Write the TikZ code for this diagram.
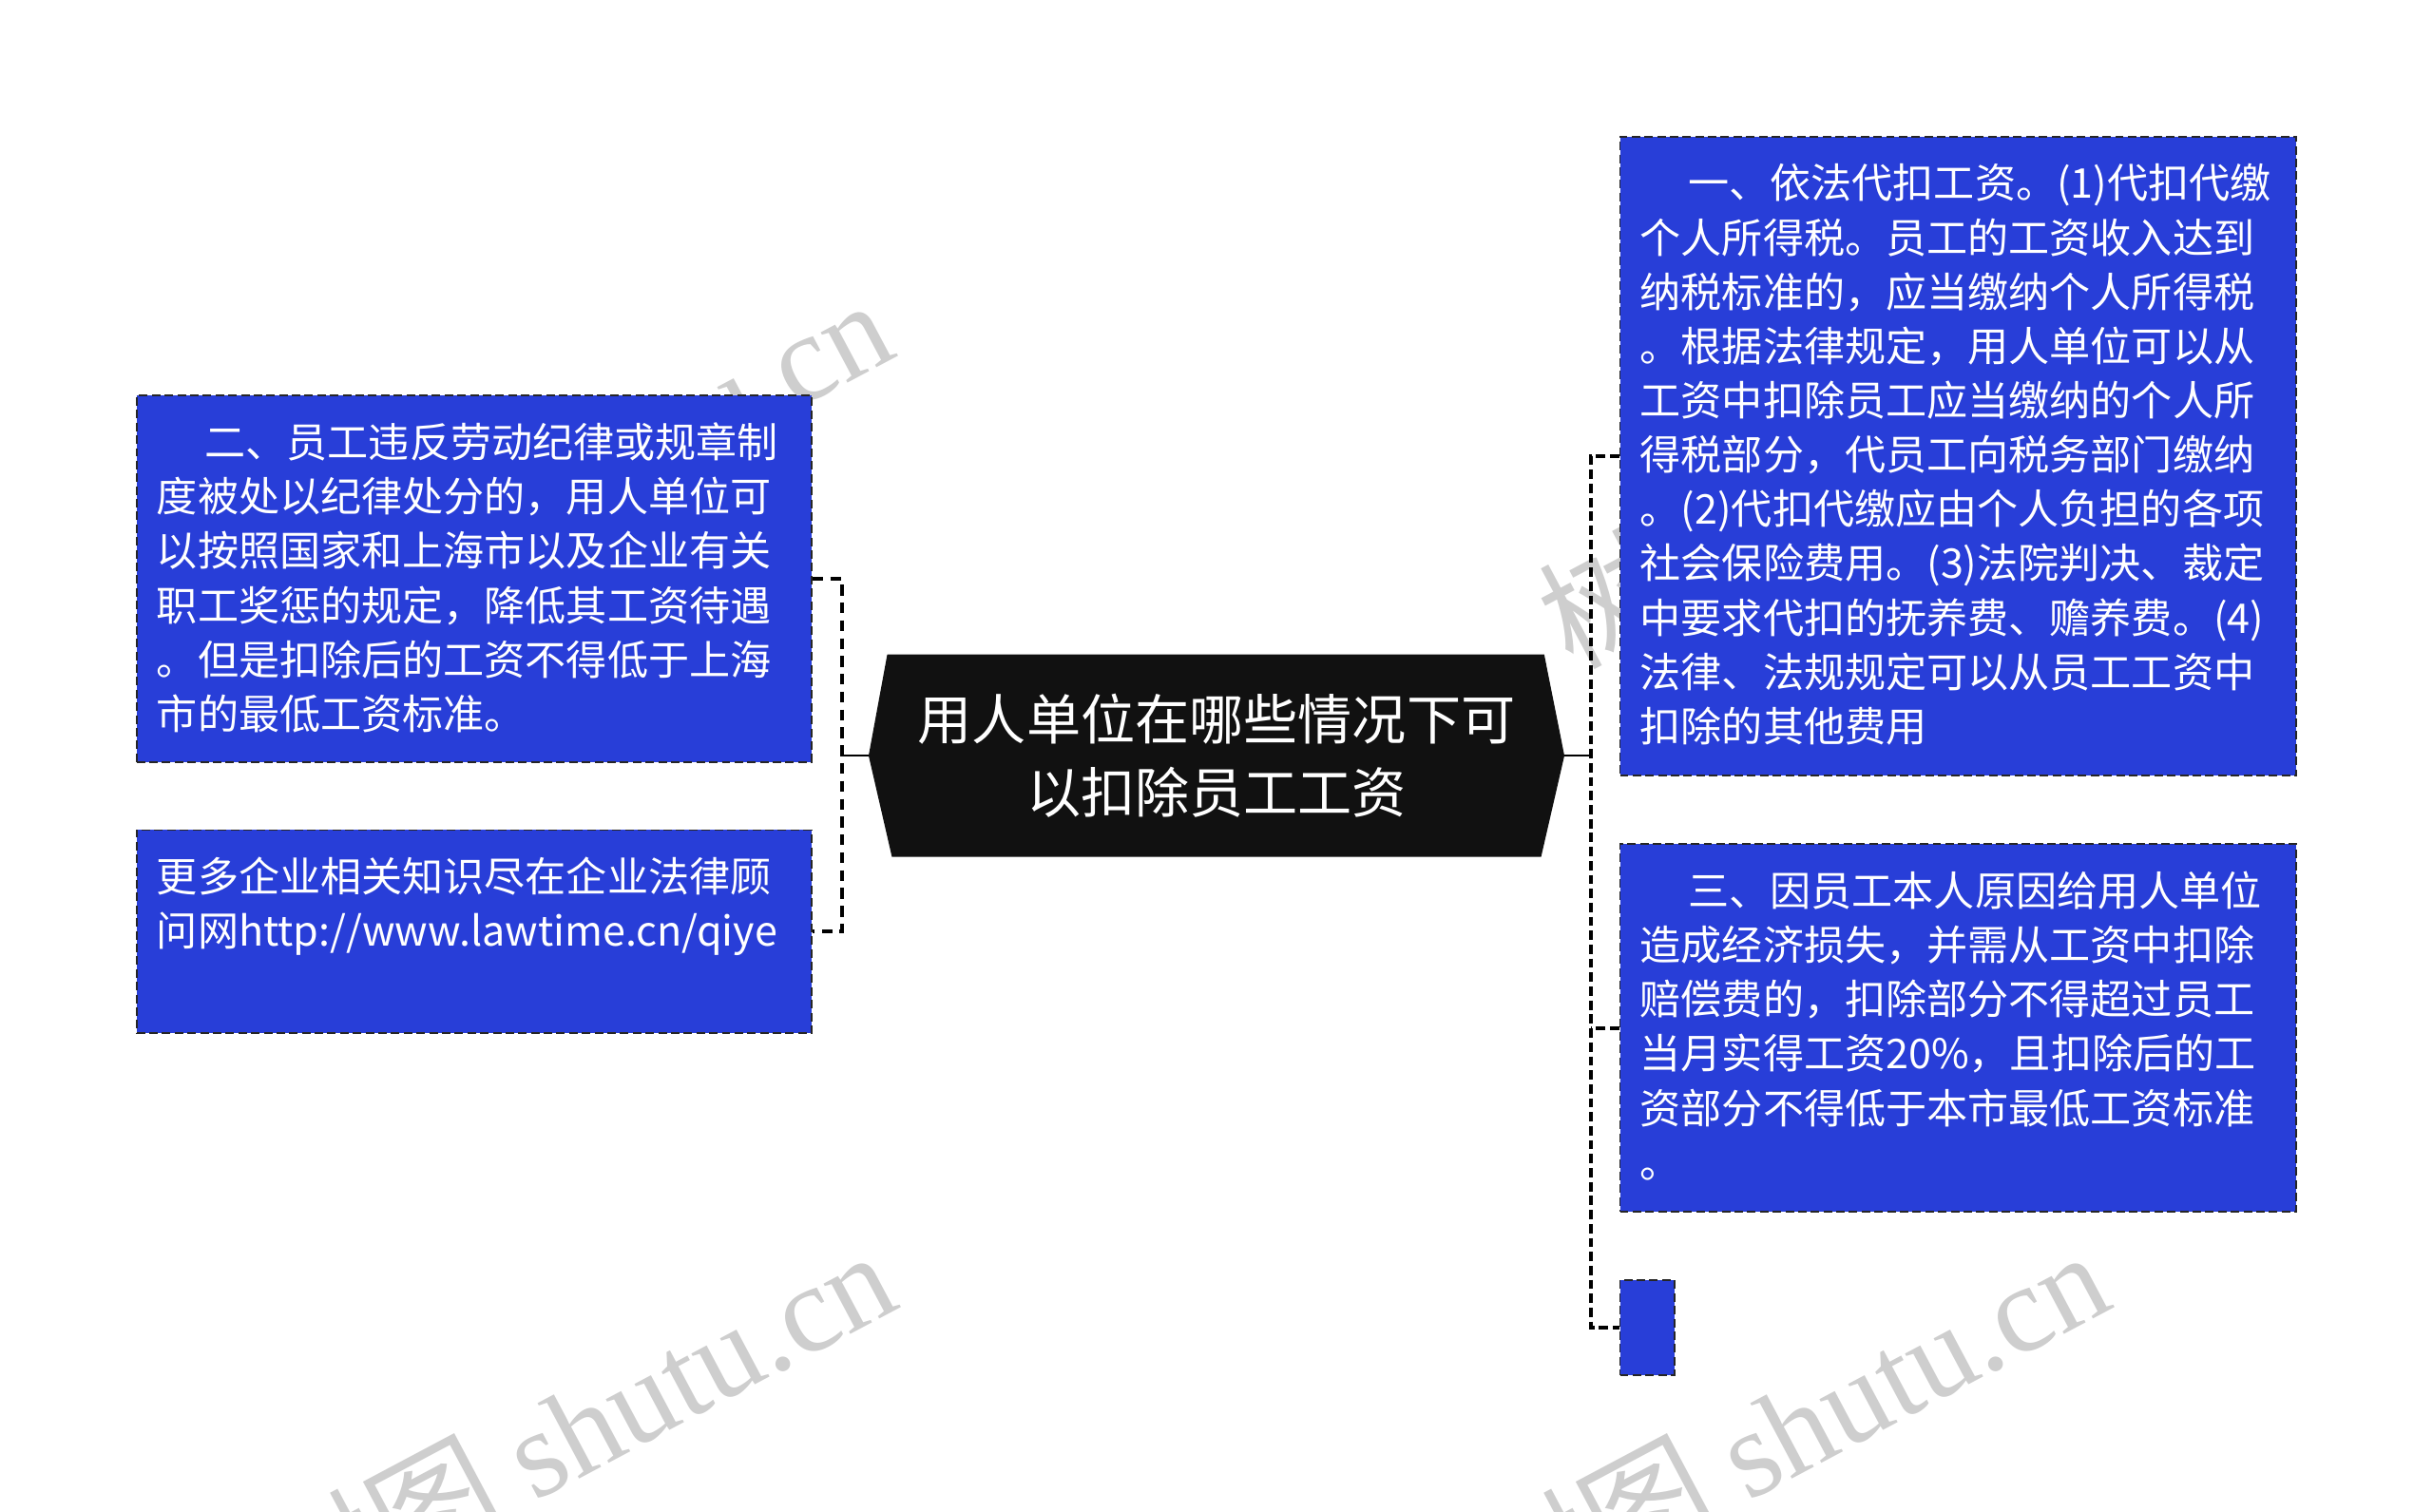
\documentclass[tikz,border=0pt]{standalone}
\usepackage{fontspec}
\setmainfont{Noto Sans CJK SC}
\newfontfamily\cjk{Noto Sans CJK SC}
\newfontfamily\wmserif{Liberation Serif}
\usetikzlibrary{calc,backgrounds}
\definecolor{boxblue}{RGB}{40,62,216}
\definecolor{hexfill}{RGB}{17,17,17}
\definecolor{wmgray}{RGB}{206,206,206}
\newcommand\boxtext[3]{\parbox[c][#1][t]{#2}{\fontsize{26.4}{35}\selectfont\raggedright\rule{0pt}{40pt}#3}}
\tikzset{
  infobox/.style={rectangle, fill=boxblue, draw=black!85, line width=1.2pt,
    dash pattern=on 5.5pt off 2.7pt, inner sep=0pt, text=white,
    font=\cjk\fontsize{26.4}{35}\selectfont},
  hexnode/.style={rectangle, minimum width=448pt, minimum height=130pt, inner sep=0pt,
    align=center, text=white, font=\cjk\fontsize{35}{47}\selectfont},
  stub/.style={line width=1.6pt, black},
  ldash/.style={line width=2.4pt, black, dash pattern=on 7pt off 4.5pt},
  rdash/.style={line width=2.4pt, black, dash pattern=on 6pt off 3pt},
  wmark/.style={anchor=base east, rotate=28, text=wmgray,
    inner sep=0pt, font=\fontsize{80}{80}\selectfont}
}
\begin{document}
\begin{tikzpicture}[x=1pt,y=-1pt]
\useasboundingbox (0,0) rectangle (1568,974);

% central topic
\node[hexnode] (c) at (784,487) {用人单位在哪些情况下可\\以扣除员工工资};

\begin{scope}[on background layer]
\fill[white] (0,0) rectangle (1568,974);
% watermarks
\node[wmark] (wm1) at (580,229) {{\cjk 树图} {\wmserif shutu.cn}};
\node[wmark] (wm2) at (1408,222) {{\cjk 树图} {\wmserif shutu.cn}};
\node[wmark] (wm3) at (582,842) {{\cjk 树图} {\wmserif shutu.cn}};
\node[wmark] (wm4) at (1364,842) {{\cjk 树图} {\wmserif shutu.cn}};
\fill[hexfill] (c.west) -- ($(c.north west)+(12,0)$) -- ($(c.north east)+(-13,0)$)
  -- (c.east) -- ($(c.south east)+(-15,0)$) -- ($(c.south west)+(15,0)$) -- cycle;
\end{scope}

% left boxes
\node[infobox, minimum width=435pt, minimum height=236pt] (l1) at (305.5,373)
 {\boxtext{236pt}{409pt}{\hspace*{31pt}二、员工违反劳动纪律或规章制\\
  度被处以纪律处分的，用人单位可\\
  以按照国家和上海市以及企业有关\\
  职工奖惩的规定，降低其工资待遇\\
  。但是扣除后的工资不得低于上海\\
  市的最低工资标准。}};
\node[infobox, minimum width=435pt, minimum height=131pt] (l2) at (305.5,600.5)
 {\boxtext{131pt}{409pt}{更多企业相关知识尽在企业法律顾\\
  问网http://www.lawtime.cn/qiye}};

% right boxes
\node[infobox, minimum width=436pt, minimum height=412pt] (r1) at (1262,294)
 {\boxtext{412pt}{410pt}{\hspace*{31pt}一、依法代扣工资。(1)代扣代缴\\
  个人所得税。员工的工资收入达到\\
  纳税标准的，应当缴纳个人所得税\\
  。根据法律规定，用人单位可以从\\
  工资中扣除员工应当缴纳的个人所\\
  得税部分，代员工向税务部门缴纳\\
  。(2)代扣代缴应由个人负担的各项\\
  社会保险费用。(3)法院判决、裁定\\
  中要求代扣的抚养费、赡养费。(4)\\
  法律、法规规定可以从员工工资中\\
  扣除的其他费用}};
\node[infobox, minimum width=436pt, minimum height=237pt] (r2) at (1262,662.5)
 {\boxtext{237pt}{410pt}{\hspace*{31pt}三、因员工本人原因给用人单位\\
  造成经济损失，并需从工资中扣除\\
  赔偿费的，扣除部分不得超过员工\\
  当月实得工资20\%，且扣除后的工\\
  资部分不得低于本市最低工资标准\\
  。}};
\node[infobox, minimum width=35pt, minimum height=61pt] (r3) at (1061.5,855.5) {};

% connectors
\coordinate (lj) at ($(c.west)+(-17,0)$);
\coordinate (rj) at ($(c.east)+(17,0)$);
\draw[stub] (c.west) -- (lj);
\draw[stub] (c.east) -- (rj);
\draw[ldash] (l1.east) -- (l1.east -| lj) -- (l2.east -| lj) -- (l2.east);
\draw[rdash] (r1.west) -- (r1.west -| rj) -- (r3.west -| rj) -- (r3.west);
\draw[rdash] (r2.west) -- (r2.west -| rj);
\end{tikzpicture}
\end{document}
